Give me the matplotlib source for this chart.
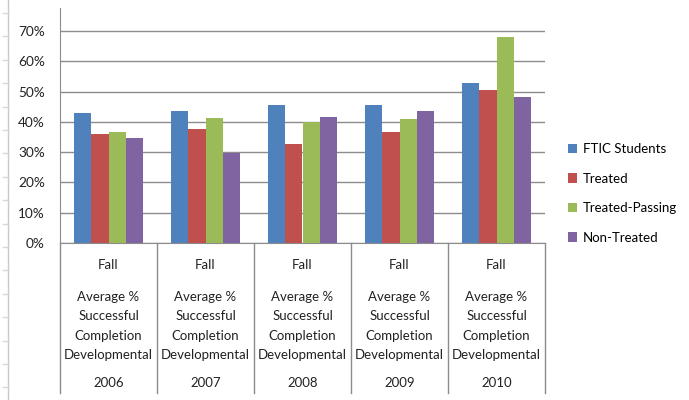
import matplotlib
matplotlib.use("Agg")
import matplotlib.pyplot as plt
from matplotlib.transforms import blended_transform_factory
from matplotlib.lines import Line2D
from matplotlib.ticker import FuncFormatter

plt.rcParams['font.family'] = ['Lato', 'DejaVu Sans']

years = ["2006", "2007", "2008", "2009", "2010"]
season = "Fall"
measure = "Average %\nSuccessful\nCompletion\nDevelopmental"
series_names = ["FTIC Students", "Treated", "Treated-Passing", "Non-Treated"]
ftic = [0.43, 0.437, 0.456, 0.456, 0.527]
treated = [0.359, 0.378, 0.327, 0.365, 0.504]
treated_passing = [0.366, 0.414, 0.398, 0.409, 0.679]
non_treated = [0.348, 0.298, 0.417, 0.437, 0.483]
colors = ["#4F81BD", "#C0504D", "#9BBB59", "#8064A2"]

W, H = 689, 400
fig = plt.figure(figsize=(W / 100, H / 100), dpi=100)
x0, x1, ytop, ybot = 60, 545, 8, 243
ax = fig.add_axes([x0 / W, 1 - ybot / H, (x1 - x0) / W, (ybot - ytop) / H])

series = [ftic, treated, treated_passing, non_treated]
bw = 0.18
xs = range(len(years))
handles = []
for i, (vals, c, name) in enumerate(zip(series, colors, series_names)):
    b = ax.bar([x + (i - 1.5) * bw for x in xs], vals, width=bw, color=c,
               label=name, zorder=3, linewidth=0)
    handles.append(b)

ax.set_xlim(-0.5, len(years) - 0.5)
ax.set_ylim(0, 0.7 + (31 - 8) / (212 / 7) * 0.1)
ax.set_yticks([i / 10 for i in range(8)])
ax.yaxis.set_major_formatter(FuncFormatter(lambda v, p: f"{round(v * 100)}%"))
ax.tick_params(axis='y', length=0, pad=11, labelsize=9.8, labelcolor="#222222")
ax.set_xticks([])
ax.grid(axis='y', color="#8c8c8c", linewidth=1, zorder=0)
for s in ["top", "right"]:
    ax.spines[s].set_visible(False)
ax.spines["left"].set_color("#8c8c8c")
ax.spines["bottom"].set_color("#8c8c8c")

# category separators and multi-level labels
tr = blended_transform_factory(ax.transData, fig.transFigure)
def fy(py):
    return 1 - py / H
for k in range(len(years) + 1):
    xx = k - 0.5
    fig.add_artist(Line2D([xx, xx], [fy(243), fy(393)], transform=tr,
                          color="#8c8c8c", linewidth=1))
for k, yr in enumerate(years):
    fig.text(k, fy(265), season, transform=tr, ha='center', va='center',
             fontsize=9.5, color="#222222")
    fig.text(k, fy(326), measure, transform=tr, ha='center', va='center',
             fontsize=9.5, color="#222222", linespacing=1.72)
    fig.text(k, fy(383), yr, transform=tr, ha='center', va='center',
             fontsize=9.5, color="#222222")

# faint sheet edge at far left
fig.add_artist(Line2D([8 / W, 8 / W], [0, 1], transform=fig.transFigure,
                      color="#c8c8c8", linewidth=1))
for k in range(17):
    py = 13 + k * 23.4
    fig.add_artist(Line2D([3 / W, 8 / W], [fy(py), fy(py)],
                          transform=fig.transFigure, color="#d8d8d8", linewidth=1))

fig.legend(handles=handles, loc='upper left', bbox_to_anchor=(568 / W, fy(143)),
           frameon=False, fontsize=9.5, handlelength=0.7, handleheight=0.7,
           handletextpad=0.4, labelspacing=1.33, borderaxespad=0, borderpad=0)

fig.savefig("out.png", dpi=100)
